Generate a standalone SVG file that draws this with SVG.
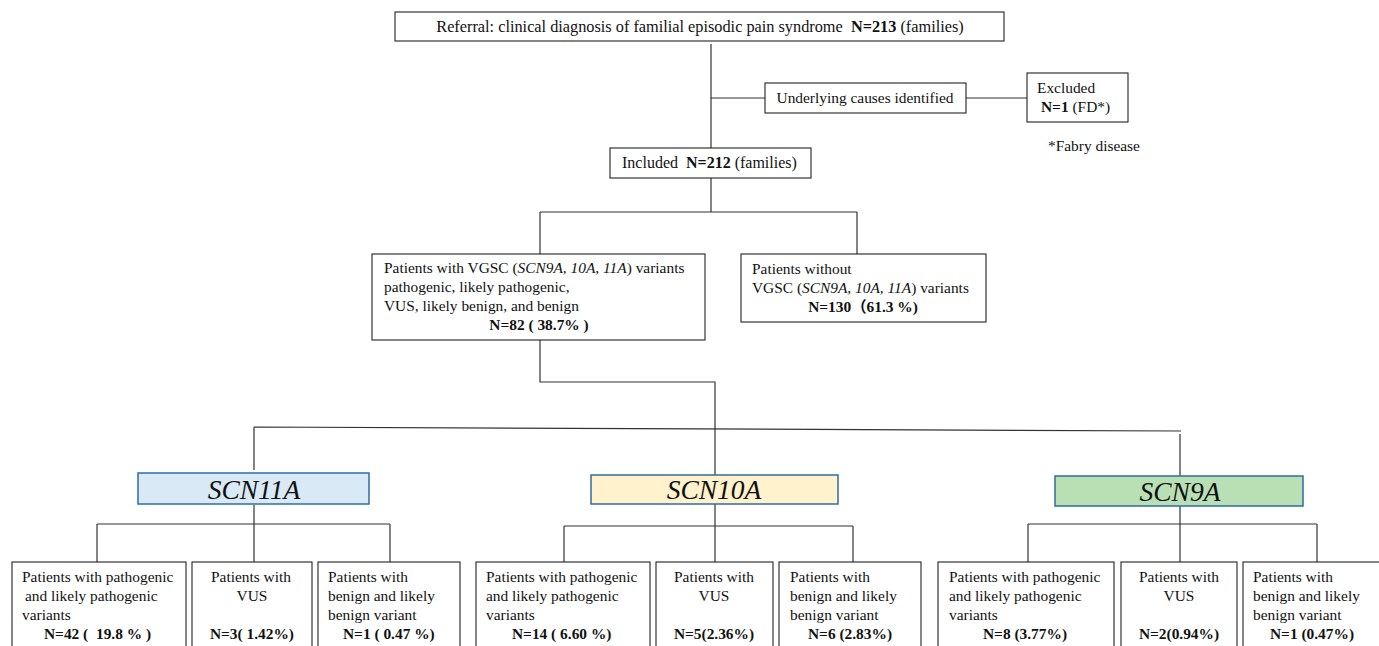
<svg xmlns="http://www.w3.org/2000/svg" width="1379" height="646" viewBox="0 0 1379 646">
<style>
.box{fill:#fff;stroke:#222;stroke-width:1.1}
.t{font-family:"Liberation Serif","Times New Roman",serif;font-size:15.4px;fill:#111}
.b{font-weight:bold}
.i{font-style:italic}
.c{text-anchor:middle}
.gene{font-family:"Liberation Serif","Times New Roman",serif;font-style:italic;font-size:27.5px;fill:#111;text-anchor:middle}
.gb{stroke:#2E6DA4;stroke-width:1.5}
.ln{stroke:#333;stroke-width:1.2;fill:none}
</style>
<rect width="1379" height="646" fill="#fff"/>
<g id="connectors">
<path class="ln" d="M711 44V148M711 98H765M966 98H1027"/>
<path class="ln" d="M711 178V212M540 212H857M540 212V254M857 212V254"/>
<path class="ln" d="M540 340V382H715V562"/>
<path class="ln" d="M254 427L1181 431M254 427V470M1180 434V562"/>
<path class="ln" d="M254 505V562M97 524H390M97 524V562M390 524V562"/>
<path class="ln" d="M564 526H853M564 526V562M853 526V562"/>
<path class="ln" d="M1028 524H1317M1028 524V562M1317 524V562"/>
</g>
<g id="referral">
<rect class="box" x="395" y="12" width="609" height="29"/>
<text class="t c" x="700" y="32" style="font-size:16.3px" xml:space="preserve">Referral: clinical diagnosis of familial episodic pain syndrome  <tspan class="b">N=213</tspan> (families)</text>
</g>
<g id="underlying">
<rect class="box" x="765" y="83" width="201" height="30"/>
<text class="t c" x="865" y="103">Underlying causes identified</text>
</g>
<g id="excluded">
<rect class="box" x="1027" y="73" width="101" height="49"/>
<text class="t" x="1037" y="93">Excluded</text>
<text class="t" x="1041" y="112"><tspan class="b">N=1</tspan> (FD*)</text>
</g>
<g id="footnote">
<text class="t" x="1048" y="151">*Fabry disease</text>
</g>
<g id="included">
<rect class="box" x="610" y="148" width="201" height="30"/>
<text class="t" x="622" y="168" style="font-size:16px" xml:space="preserve">Included  <tspan class="b">N=212</tspan> (families)</text>
</g>
<g id="with-vgsc">
<rect class="box" x="372" y="254" width="333" height="86"/>
<text class="t" x="384" y="273">Patients with VGSC (<tspan class="i">SCN9A, 10A, 11A</tspan>) variants</text>
<text class="t" x="384" y="292">pathogenic, likely pathogenic,</text>
<text class="t" x="384" y="311">VUS, likely benign, and benign</text>
<text class="t b c" x="539" y="330">N=82 ( 38.7% )</text>
</g>
<g id="without-vgsc">
<rect class="box" x="741" y="254" width="245" height="68"/>
<text class="t" x="752" y="274">Patients without</text>
<text class="t" x="752" y="293">VGSC (<tspan class="i">SCN9A, 10A, 11A</tspan>) variants</text>
<text class="t b c" x="863" y="312" style="font-family:'Liberation Serif','Noto Sans CJK SC',serif">N=130（61.3 %)</text>
</g>
<g id="scn11a">
<rect class="gb" x="138" y="473" width="231" height="31" fill="#DAE9F6"/>
<text class="gene" x="254" y="499">SCN11A</text>
</g>
<g id="scn10a">
<rect class="gb" x="591" y="475" width="247" height="29" fill="#FFF2CC"/>
<text class="gene" x="714" y="499">SCN10A</text>
</g>
<g id="scn9a">
<rect class="gb" x="1055" y="476" width="248" height="30" fill="#B9E0B5"/>
<text class="gene" x="1180" y="501">SCN9A</text>
</g>
<g id="scn11a-path">
<rect class="box" x="12" y="562" width="174" height="100"/>
<text class="t" x="22" y="582">Patients with pathogenic</text>
<text class="t" x="25" y="601">and likely pathogenic</text>
<text class="t" x="22" y="620">variants</text>
<text class="t b" x="44" y="639" xml:space="preserve">N=42 (  19.8 % )</text>
</g>
<g id="scn11a-vus">
<rect class="box" x="192" y="562" width="120" height="100"/>
<text class="t c" x="251" y="582">Patients with</text>
<text class="t c" x="252" y="601">VUS</text>
<text class="t b c" x="252" y="639">N=3( 1.42%)</text>
</g>
<g id="scn11a-benign">
<rect class="box" x="318" y="562" width="142" height="100"/>
<text class="t" x="328" y="582">Patients with</text>
<text class="t" x="328" y="601">benign and likely</text>
<text class="t" x="328" y="620">benign variant</text>
<text class="t b" x="343" y="639">N=1 ( 0.47 %)</text>
</g>
<g id="scn10a-path">
<rect class="box" x="476" y="562" width="174" height="100"/>
<text class="t" x="486" y="582">Patients with pathogenic</text>
<text class="t" x="486" y="601">and likely pathogenic</text>
<text class="t" x="486" y="620">variants</text>
<text class="t b" x="512" y="639">N=14 ( 6.60 %)</text>
</g>
<g id="scn10a-vus">
<rect class="box" x="656" y="562" width="117" height="100"/>
<text class="t c" x="714" y="582">Patients with</text>
<text class="t c" x="714" y="601">VUS</text>
<text class="t b c" x="714" y="639">N=5(2.36%)</text>
</g>
<g id="scn10a-benign">
<rect class="box" x="779" y="562" width="142" height="100"/>
<text class="t" x="790" y="582">Patients with</text>
<text class="t" x="790" y="601">benign and likely</text>
<text class="t" x="790" y="620">benign variant</text>
<text class="t b" x="808" y="639">N=6 (2.83%)</text>
</g>
<g id="scn9a-path">
<rect class="box" x="938" y="562" width="176" height="100"/>
<text class="t" x="949" y="582">Patients with pathogenic</text>
<text class="t" x="949" y="601">and likely pathogenic</text>
<text class="t" x="949" y="620">variants</text>
<text class="t b" x="983" y="639">N=8 (3.77%)</text>
</g>
<g id="scn9a-vus">
<rect class="box" x="1121" y="562" width="116" height="100"/>
<text class="t c" x="1179" y="582">Patients with</text>
<text class="t c" x="1179" y="601">VUS</text>
<text class="t b c" x="1179" y="639">N=2(0.94%)</text>
</g>
<g id="scn9a-benign">
<rect class="box" x="1243" y="562" width="145" height="100"/>
<text class="t" x="1253" y="582">Patients with</text>
<text class="t" x="1253" y="601">benign and likely</text>
<text class="t" x="1253" y="620">benign variant</text>
<text class="t b" x="1270" y="639">N=1 (0.47%)</text>
</g>
</svg>
